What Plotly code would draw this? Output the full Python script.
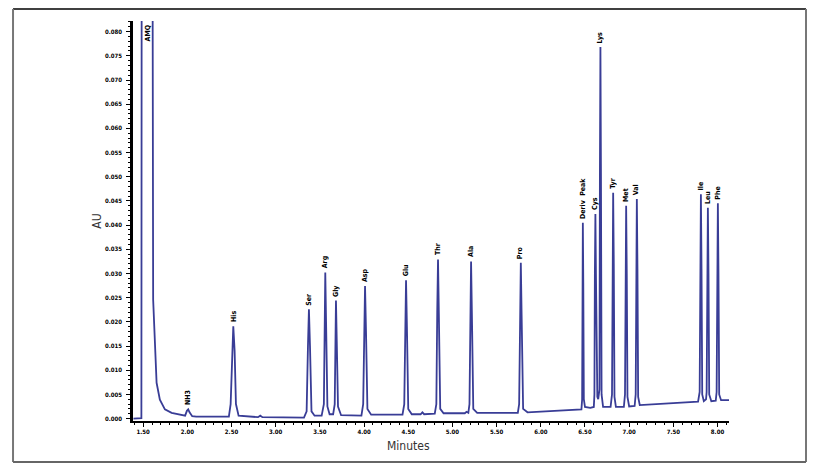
import plotly.graph_objects as go

# peak labels, apex times (min) and apex heights (AU)
peak_names = ["AMQ", "NH3", "His", "Ser", "Arg", "Gly", "Asp", "Glu", "Thr", "Ala", "Pro",
              "Deriv&nbsp;&nbsp;Peak", "Cys", "Lys", "Tyr", "Met", "Val", "Ile", "Leu", "Phe"]
peak_min = [1.555, 2.010, 2.520, 3.376, 3.561, 3.682, 4.011, 4.475, 4.837, 5.211, 5.774,
            6.476, 6.618, 6.675, 6.819, 6.966, 7.087, 7.812, 7.891, 8.004]
peak_au = [0.0818, 0.0019, 0.0191, 0.0226, 0.0302, 0.0244, 0.0274, 0.0286, 0.0329, 0.0325, 0.0322,
           0.0405, 0.0423, 0.0768, 0.0467, 0.0440, 0.0454, 0.0464, 0.0436, 0.0445]

# detector trace, read point by point (minutes / AU)
trace_min = [
    1.390, 1.480, 1.484, 1.604, 1.613, 1.632, 1.652, 1.689, 1.746, 1.822, 1.935,   # AMQ + tail
    1.975, 1.995, 2.010, 2.025, 2.055, 2.100,                                    # NH3
    2.470, 2.490, 2.505, 2.520, 2.535, 2.550, 2.580, 2.800, 2.825, 2.850,        # His
    3.320, 3.350, 3.365, 3.376, 3.388, 3.405, 3.440,                             # Ser
    3.520, 3.545, 3.552, 3.561, 3.570, 3.585, 3.610,                             # Arg
    3.650, 3.668, 3.674, 3.682, 3.691, 3.705, 3.740,                             # Gly
    3.970, 3.990, 4.000, 4.011, 4.022, 4.038, 4.080,                             # Asp
    4.435, 4.455, 4.465, 4.475, 4.485, 4.500, 4.540, 4.640, 4.660, 4.680,        # Glu
    4.800, 4.818, 4.828, 4.837, 4.846, 4.862, 4.900, 5.140, 5.160, 5.180,        # Thr
    5.193, 5.202, 5.211, 5.220, 5.236, 5.280,                                    # Ala
    5.740, 5.755, 5.765, 5.774, 5.783, 5.800, 5.850, 6.050,                      # Pro
    6.460, 6.468, 6.471, 6.476, 6.481, 6.487, 6.500, 6.560,                      # Deriv Peak
    6.600, 6.607, 6.612, 6.618, 6.624, 6.640, 6.650,                             # Cys
    6.664, 6.669, 6.675, 6.681, 6.688, 6.705,                                    # Lys
    6.790, 6.806, 6.812, 6.819, 6.826, 6.834, 6.850,                             # Tyr
    6.940, 6.953, 6.959, 6.966, 6.973, 6.981, 7.000,                             # Met
    7.062, 7.074, 7.080, 7.087, 7.094, 7.102, 7.120,                             # Val
    7.780, 7.798, 7.805, 7.812, 7.819, 7.827, 7.845,                             # Ile
    7.870, 7.877, 7.884, 7.891, 7.898, 7.906, 7.930,                             # Leu
    7.980, 7.990, 7.997, 8.004, 8.011, 8.019, 8.040, 8.140,                      # Phe
]
trace_au = [
    0.0000, 0.0001, 0.1200, 0.1200, 0.0246, 0.0143, 0.0074, 0.0039, 0.0019, 0.0012, 0.0007,
    0.0006, 0.0016, 0.0019, 0.0013, 0.0005, 0.0004,
    0.0004, 0.0030, 0.0140, 0.0191, 0.0140, 0.0030, 0.0006, 0.0003, 0.0006, 0.0003,
    0.0002, 0.0015, 0.0150, 0.0226, 0.0150, 0.0015, 0.0006,
    0.0006, 0.0030, 0.0200, 0.0302, 0.0200, 0.0025, 0.0009,
    0.0009, 0.0030, 0.0160, 0.0244, 0.0160, 0.0025, 0.0007,
    0.0006, 0.0030, 0.0180, 0.0274, 0.0180, 0.0020, 0.0008,
    0.0008, 0.0030, 0.0190, 0.0286, 0.0190, 0.0020, 0.0009, 0.0009, 0.0013, 0.0009,
    0.0010, 0.0030, 0.0220, 0.0329, 0.0220, 0.0020, 0.0011, 0.0011, 0.0014, 0.0012,
    0.0030, 0.0220, 0.0325, 0.0220, 0.0020, 0.0012,
    0.0012, 0.0030, 0.0215, 0.0322, 0.0215, 0.0020, 0.0013, 0.0015,
    0.0019, 0.0040, 0.0280, 0.0405, 0.0280, 0.0040, 0.0024, 0.0022,
    0.0024, 0.0050, 0.0300, 0.0423, 0.0300, 0.0045, 0.0040,
    0.0060, 0.0500, 0.0768, 0.0500, 0.0050, 0.0024,
    0.0024, 0.0050, 0.0320, 0.0467, 0.0320, 0.0045, 0.0024,
    0.0024, 0.0050, 0.0300, 0.0440, 0.0300, 0.0045, 0.0025,
    0.0026, 0.0050, 0.0310, 0.0454, 0.0310, 0.0045, 0.0028,
    0.0035, 0.0055, 0.0310, 0.0464, 0.0310, 0.0050, 0.0036,
    0.0040, 0.0055, 0.0300, 0.0436, 0.0300, 0.0050, 0.0036,
    0.0037, 0.0055, 0.0300, 0.0445, 0.0300, 0.0050, 0.0038, 0.0038,
]

y_ticks = [i * 0.005 for i in range(17)]
x_ticks = [1.5, 2.0, 2.5, 3.0, 3.5, 4.0, 4.5, 5.0, 5.5, 6.0, 6.5, 7.0, 7.5, 8.0]

NARROW = "Liberation Sans Narrow, DejaVu Sans Condensed, Arial Narrow, sans-serif"
TICK_FONT = dict(family=NARROW, size=6, color="#000", weight="bold")
LABEL_FONT = dict(family=NARROW, size=7, color="#000")
TITLE_FONT = dict(family=NARROW, size=12, color="#333")


def peak_annotations():
    notes = []
    for name, t, h in zip(peak_names, peak_min, peak_au):
        top = name == "AMQ"  # off-scale peak, label hangs from the top
        notes.append(dict(x=t, y=h, xref="x", yref="y", text="<b>%s</b>" % name,
                          textangle=-90, showarrow=False, font=LABEL_FONT,
                          xanchor="center", yanchor="top" if top else "bottom",
                          yshift=0 if top else 2))
    return notes


def build_figure():
    fig = go.Figure()
    fig.add_trace(go.Scatter(x=trace_min, y=trace_au, mode="lines",
                             line=dict(color="#393d96", width=1.8), hoverinfo="x+y"))

    fig.update_xaxes(range=[1.385, 8.13], tickvals=x_ticks, tickformat=".2f",
                     ticks="outside", ticklen=4, tickwidth=1, tickcolor="#000",
                     showline=True, linecolor="#000", linewidth=2, showgrid=False, zeroline=False,
                     tickfont=TICK_FONT,
                     minor=dict(dtick=0.1, tick0=1.5, ticks="outside", ticklen=2, tickcolor="#000"))
    fig.update_yaxes(range=[-0.0005, 0.0822], tickvals=y_ticks, tickformat=".3f",
                     ticks="outside", ticklen=4, tickwidth=1, tickcolor="#000",
                     showline=True, linecolor="#000", linewidth=2.5, showgrid=False, zeroline=False,
                     tickfont=TICK_FONT, ticklabelstandoff=3,
                     minor=dict(dtick=0.001, tick0=0, ticks="outside", ticklen=2, tickcolor="#000"))

    notes = peak_annotations()
    notes.append(dict(x=-0.061, y=0.5, xref="paper", yref="paper", text="AU", textangle=-90,
                      showarrow=False, font=TITLE_FONT, xanchor="center", yanchor="middle"))
    notes.append(dict(x=0.463, y=-0.0625, xref="paper", yref="paper", text="Minutes",
                      showarrow=False, font=TITLE_FONT, xanchor="center", yanchor="middle"))

    # outer frame of the report panel
    frame = [
        dict(type="line", xref="paper", yref="paper", x0=-0.2013, x1=1.1292, y0=1.030, y1=1.030,
             line=dict(color="#000", width=1.5)),
        dict(type="line", xref="paper", yref="paper", x0=-0.2013, x1=-0.2013, y0=1.030, y1=-0.1025,
             line=dict(color="#777", width=2)),
        dict(type="line", xref="paper", yref="paper", x0=1.1292, x1=1.1292, y0=1.030, y1=-0.1025,
             line=dict(color="#777", width=2)),
        dict(type="line", xref="paper", yref="paper", x0=-0.2013, x1=1.1292, y0=-0.1025, y1=-0.1025,
             line=dict(color="#666", width=2)),
    ]

    # page puts the graph 8px in from the corner, so the figure is 8px smaller
    fig.update_layout(width=810, height=463, margin=dict(l=125, r=89, t=13, b=50),
                      paper_bgcolor="white", plot_bgcolor="white", showlegend=False,
                      annotations=notes, shapes=frame)
    return fig


def main():
    fig = build_figure()
    fig.write_html("out.html")


if __name__ == '__main__':
    main()
